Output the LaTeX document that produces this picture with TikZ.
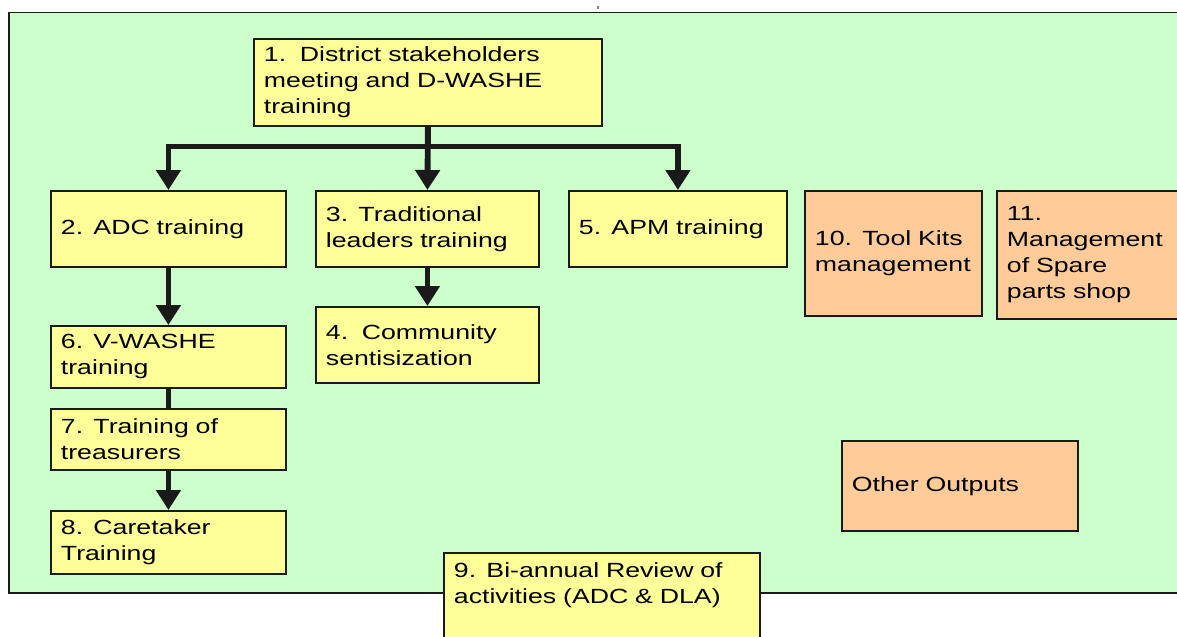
\documentclass[tikz,border=0pt]{standalone}
\usepackage{fontspec}
\setmainfont{Liberation Sans}[FakeStretch=1.3]
\definecolor{bgGreen}{HTML}{CCFFCC}
\definecolor{boxYellow}{HTML}{FFFF99}
\definecolor{boxOrange}{HTML}{FFCC99}
\definecolor{lineDark}{HTML}{1A1A1A}
\usetikzlibrary{arrows.meta}

\begin{document}
\begin{tikzpicture}[x=0.75pt, y=-0.75pt,
  ybox/.style={draw=lineDark, line width=1.4pt, fill=boxYellow,
               anchor=north west, inner xsep=7.5pt, inner ysep=0pt,
               align=left, font=\fontsize{15.4pt}{19.5pt}\selectfont},
  obox/.style={ybox, fill=boxOrange},
  arr/.style={draw=lineDark, line width=4.4pt,
              -{Triangle[length=15pt, width=18pt]}},
  link/.style={draw=lineDark, line width=4.4pt}]
  \useasboundingbox (0,0) rectangle (1177,636);
  \draw[fill=bgGreen, draw=lineDark, line width=1.2pt] (9,12.5) rectangle (1200,593);
  \draw[gray, line width=1pt] (598,6) -- (598,9);
  % top row
  \node[ybox, minimum width=261pt, minimum height=65pt, text width=246pt] (b1) at (253,38)
     {1.\ \ District stakeholders\\meeting and D-WASHE\\training};
  \node[ybox, minimum width=176.25pt, minimum height=57pt, text width=161.25pt] (b2) at (50,190)
     {2. ADC training};
  \node[ybox, minimum width=167.25pt, minimum height=57pt, text width=152.25pt] (b3) at (315,190)
     {3. Traditional\\leaders training};
  \node[ybox, minimum width=163.5pt, minimum height=57pt, text width=148.5pt] (b5) at (568,190)
     {5. APM training};
  \node[obox, minimum width=132.75pt, minimum height=94pt, text width=117.75pt] (b10) at (804,190)
     {10. Tool Kits\\management};
  \node[obox, minimum width=150pt, minimum height=96pt, text width=135pt] (b11) at (996,190)
     {11.\\Management\\of Spare\\parts shop};
  % lower boxes
  \node[ybox, minimum width=167.25pt, minimum height=57pt, text width=152.25pt] (b4) at (315,306)
     {4.\ \ Community\\sentisization};
  \node[ybox, minimum width=176.25pt, minimum height=46.5pt, text width=161.25pt] (b6) at (50,325)
     {6. V-WASHE\\training};
  \node[ybox, minimum width=176.25pt, minimum height=45.75pt, text width=161.25pt] (b7) at (50,408)
     {7. Training of\\treasurers};
  \node[ybox, minimum width=176.25pt, minimum height=47.25pt, text width=161.25pt] (b8) at (50,510)
     {8. Caretaker\\Training};
  \node[obox, minimum width=177pt, minimum height=67.5pt, text width=162pt] (oth) at (841,440)
     {Other Outputs};
  \node[ybox, minimum width=237pt, text width=222pt, inner ysep=7pt, text depth=70pt] (b9) at (443,552)
     {9. Bi-annual Review of\\activities (ADC \& DLA)};
  % connectors
  \draw[arr] (b1.south) -- (b3.north);
  \draw[arr] (b1.south) -- ++(0,20) -| (b2.north);
  \draw[arr] (b1.south) -- ++(0,20) -| (b5.north);
  \draw[arr] (b2.south) -- (b6.north);
  \draw[link] (b6.south) -- (b7.north);
  \draw[arr] (b7.south) -- (b8.north);
  \draw[arr] (b3.south) -- (b4.north);
\end{tikzpicture}
\end{document}
